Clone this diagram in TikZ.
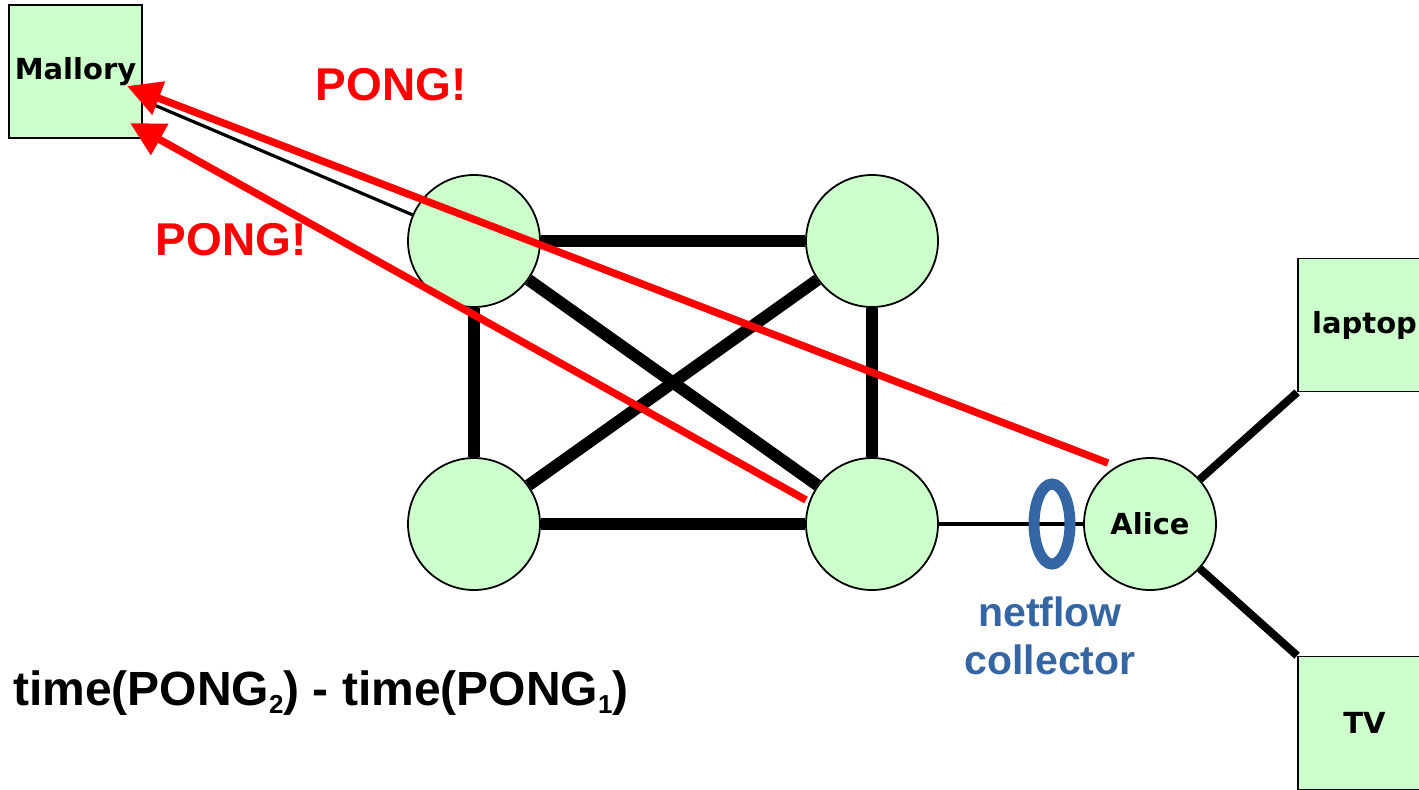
\documentclass[tikz,border=0pt]{standalone}
\usepackage{fontspec}
\setmainfont{Liberation Sans}
\newfontfamily\labelfont{DejaVu Sans}
\usetikzlibrary{arrows.meta,shapes.geometric}

\definecolor{hostgreen}{RGB}{204,255,204}
\definecolor{flowblue}{RGB}{52,101,164}

\begin{document}
\begin{tikzpicture}[
  x=0.5pt, y=-0.5pt,
  router/.style={circle, draw, line width=0.9pt, fill=hostgreen, minimum size=66pt, inner sep=0pt,
    font=\labelfont\bfseries\fontsize{14.5}{16}\selectfont},
  host/.style={rectangle, draw, line width=0.9pt, fill=hostgreen, minimum size=66.5pt, inner sep=0pt,
    font=\labelfont\bfseries\fontsize{14.5}{16}\selectfont},
  trunk/.style={line width=6pt},
  link/.style={line width=1.6pt},
  access/.style={line width=4pt},
  pong/.style={draw=red, line width=3.7pt, -{Triangle[length=17pt,width=17pt]}},
  pongtext/.style={text=red, font=\bfseries\fontsize{23}{26}\selectfont}
]
  \clip (0,0) rectangle (1419,789);

  % routers and hosts
  \node[host] (mallory) at (75.5,71.5) {Mallory};
  \node[router] (tl) at (474,241) {};
  \node[router] (tr) at (872,241) {};
  \node[router] (bl) at (474,524) {};
  \node[router] (br) at (872,524) {};
  \node[router] (alice) at (1150,524) {Alice};
  \node[host] (laptop) at (1364.5,325) {laptop};
  \node[host] (tv) at (1364.5,723) {TV};

  % core mesh
  \draw[trunk] (tl) -- (tr);
  \draw[trunk] (tl) -- (bl);
  \draw[trunk] (tr) -- (br);
  \draw[trunk] (bl) -- (br);
  \draw[trunk] (tl) -- (br);
  \draw[trunk] (tr) -- (bl);
  \draw[link] (mallory) -- (tl);
  \draw[link] (br) -- (alice);
  \draw[access] (alice) -- (laptop.south west);
  \draw[access] (alice) -- (tv.north west);

  % netflow collector
  \node[ellipse, draw=flowblue, line width=5.5pt, minimum width=18pt, minimum height=40pt, inner sep=0pt]
    (collector) at (1052,524) {};
  \node[text=flowblue, font=\bfseries\fontsize{20.5}{24}\selectfont, align=center]
    (collectorlabel) at (1050,636) {netflow\\collector};

  % the two replies
  \coordinate (pong1start) at (1108,463);
  \coordinate (pong1end) at (127,86);
  \coordinate (pong2start) at (806,500);
  \coordinate (pong2end) at (130,123);
  \draw[pong] (pong1start) -- (pong1end);
  \draw[pong] (pong2start) -- (pong2end);
  \node[pongtext] (ponga) at (391,85) {PONG!};
  \node[pongtext] (pongb) at (231,240) {PONG!};

  \node[font=\bfseries\fontsize{24}{26}\selectfont, anchor=west] (delta) at (6,693)
    {time(PONG\raisebox{-0.3ex}{\fontsize{13}{14}\selectfont 2}) - time(PONG\raisebox{-0.3ex}{\fontsize{13}{14}\selectfont 1})};
\end{tikzpicture}
\end{document}
